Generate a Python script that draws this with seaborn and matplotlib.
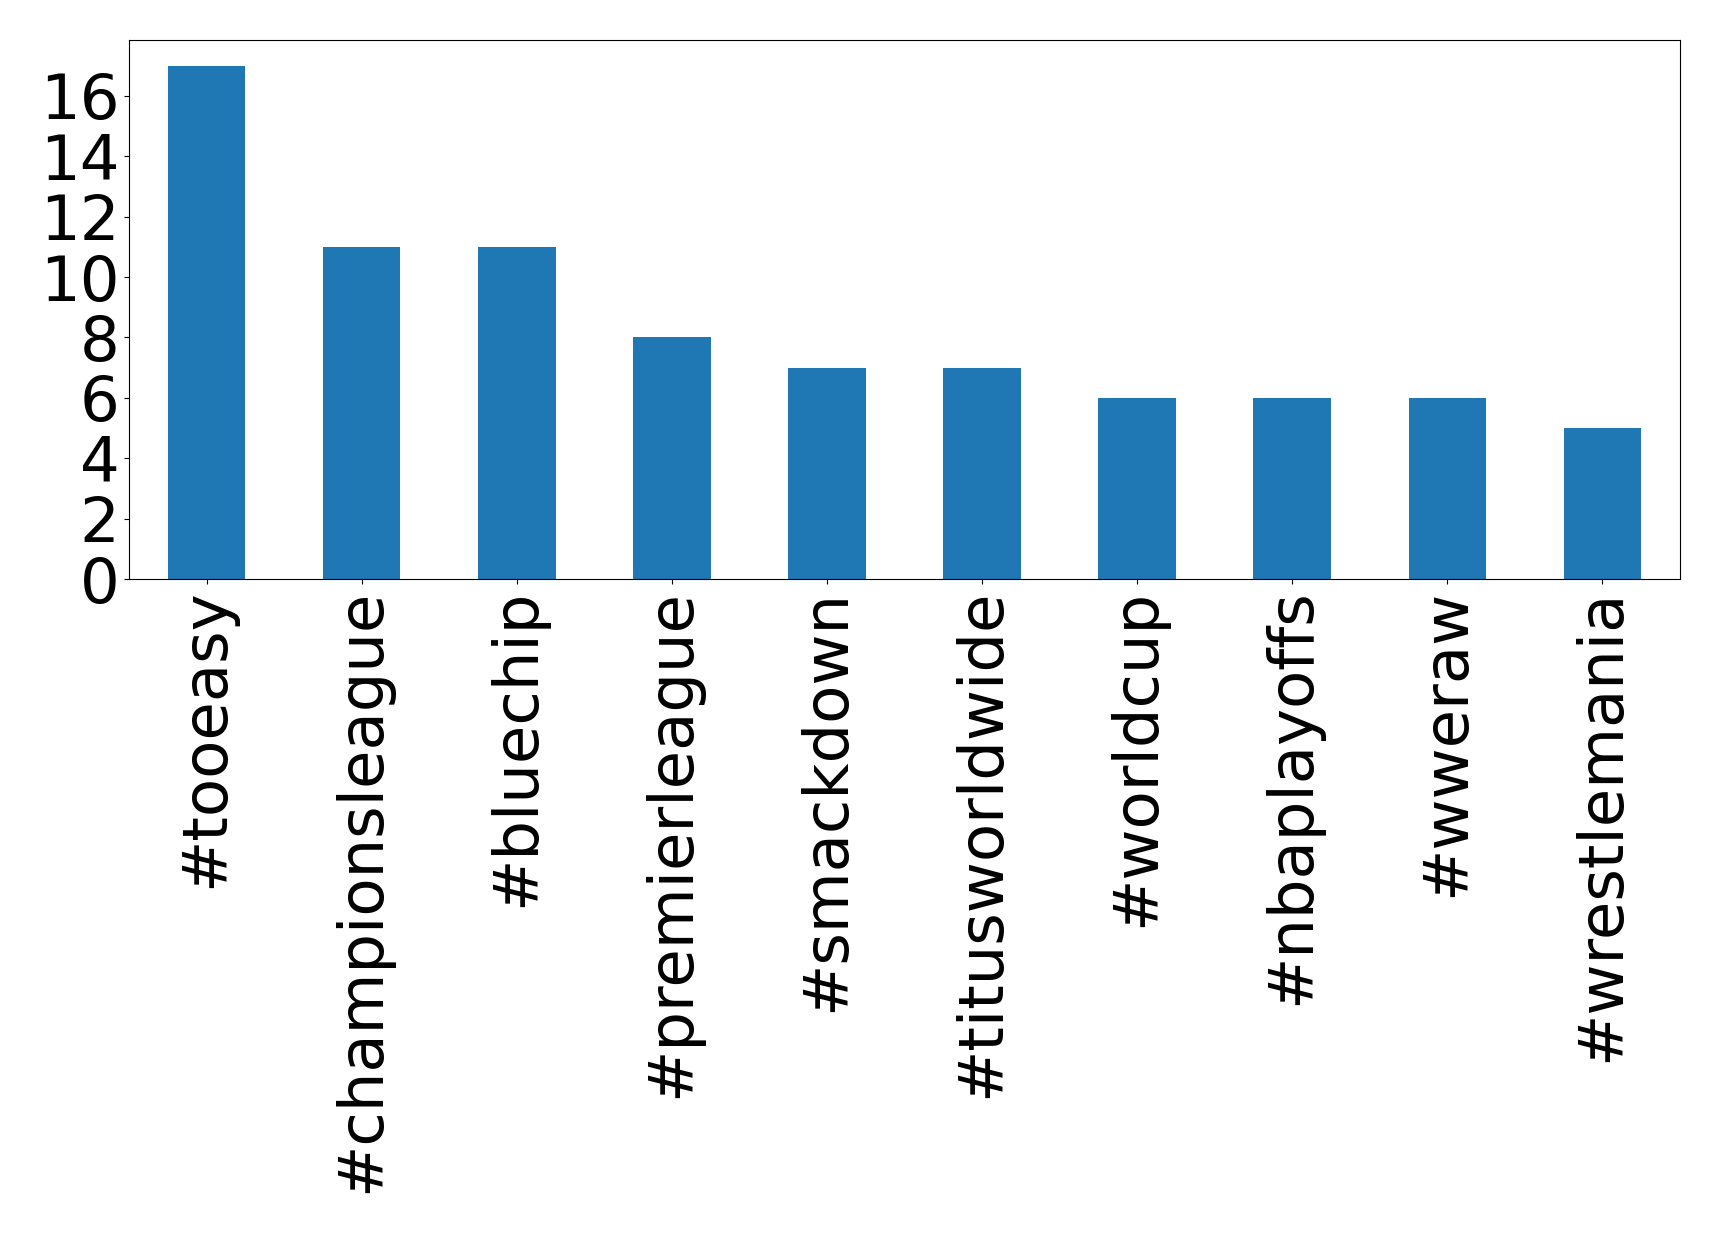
import pandas as pd
import seaborn as sns
import matplotlib
matplotlib.use('Agg')
import matplotlib.pyplot as plt
from matplotlib.ticker import MultipleLocator

# hashtag counts
hashtags = ['#tooeasy', '#championsleague', '#bluechip', '#premierleague',
            '#smackdown', '#titusworldwide', '#worldcup',
            '#nbaplayoffs', '#wweraw', '#wrestlemania']
counts = [17, 11, 11, 8, 7, 7, 6, 6, 6, 5]

df = pd.DataFrame({'hashtag': hashtags, 'count': counts})

fig = plt.figure(figsize=(17.19, 12.33), dpi=100)
ax = fig.add_axes([129 / 1719, 1 - 579 / 1233, (1680 - 129) / 1719, (579 - 40) / 1233])

sns.barplot(data=df, x='hashtag', y='count', color='#1f77b4', saturation=1,
            width=0.5, ax=ax)
ax.set_xlim(-0.5, len(hashtags) - 0.5)
ax.set_ylim(0, 17.85)
ax.yaxis.set_major_locator(MultipleLocator(2))
ax.set_xlabel('')
ax.set_ylabel('')
ax.tick_params(axis='both', labelsize=45)
ax.tick_params(axis='x', rotation=90)

fig.savefig('out.png', dpi=100)
